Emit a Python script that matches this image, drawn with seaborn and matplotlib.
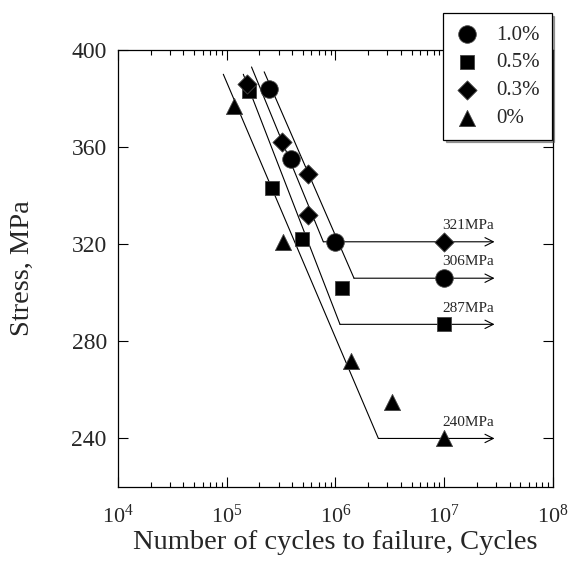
import numpy as np
import pandas as pd
import matplotlib
matplotlib.use('Agg')
import matplotlib.pyplot as plt
import seaborn as sns

# measured points per alloy content
cycles_10 = [2.45e5, 3.9e5, 1.0e6, 1.0e7]
stress_10 = [384, 355, 321, 306]
cycles_05 = [1.6e5, 2.6e5, 4.9e5, 1.16e6, 1.0e7]
stress_05 = [383, 343, 322, 302, 287]
cycles_03 = [1.55e5, 3.25e5, 5.6e5, 5.55e5, 1.0e7]
stress_03 = [386, 362, 349, 332, 321]
cycles_00 = [1.16e5, 3.3e5, 1.39e6, 3.3e6, 1.0e7]
stress_00 = [377, 321, 272, 255, 240]

series = ['1.0%', '0.5%', '0.3%', '0%']
markers = {'1.0%': 'o', '0.5%': 's', '0.3%': 'D', '0%': '^'}
sizes = {'1.0%': 160, '0.5%': 115, '0.3%': 95, '0%': 135}

# fitted S-N lines: start of sloped part, knee, fatigue limit
fit_start_cycles = [2.21e5, 1.42e5, 1.69e5, 9.3e4]
fit_start_stress = [391, 390, 393, 390]
fit_knee_cycles = [1.48e6, 1.10e6, 7.73e5, 2.48e6]
fatigue_limit = [306, 287, 321, 240]
arrow_end = 2.9e7
limit_labels = ['306MPa', '287MPa', '321MPa', '240MPa']

df = pd.concat([
    pd.DataFrame({'Cycles': c, 'Stress': s, 'Content': name})
    for c, s, name in zip([cycles_10, cycles_05, cycles_03, cycles_00],
                          [stress_10, stress_05, stress_03, stress_00], series)
])

sns.set_style('ticks')
plt.rcParams['font.family'] = ['Liberation Serif', 'DejaVu Serif']
plt.rcParams['mathtext.fontset'] = 'custom'
plt.rcParams['mathtext.rm'] = 'Liberation Serif'
plt.rcParams['mathtext.it'] = 'Liberation Serif:italic'

fig = plt.figure(figsize=(5.68, 5.61), dpi=100)
ax = fig.add_axes([0.2077, 0.1319, 0.7659, 0.7790])

for i in range(len(series)):
    ax.plot([fit_start_cycles[i], fit_knee_cycles[i]],
            [fit_start_stress[i], fatigue_limit[i]],
            color='black', lw=0.8, zorder=1)
    ax.annotate('', xy=(arrow_end, fatigue_limit[i]),
                xytext=(fit_knee_cycles[i], fatigue_limit[i]),
                arrowprops=dict(arrowstyle='->', lw=0.8, color='black',
                                mutation_scale=15, shrinkA=0, shrinkB=0),
                zorder=1)
    ax.text(1.65e7, fatigue_limit[i] + 4, limit_labels[i], fontsize=11,
            ha='center', va='bottom')

for name in series:
    sub = df[df['Content'] == name]
    sns.scatterplot(data=sub, x='Cycles', y='Stress', marker=markers[name],
                    s=sizes[name], color='black', edgecolor='#444444',
                    linewidth=0.6, label=name, ax=ax, zorder=3)

ax.set_xscale('log')
ax.set_xlim(1e4, 1e8)
ax.set_ylim(220, 400)
ax.set_yticks([240, 280, 320, 360, 400])
ax.xaxis.set_minor_locator(matplotlib.ticker.LogLocator(base=10, subs=np.arange(2, 10)))
ax.tick_params(which='both', direction='in', top=True, right=True,
               width=0.8, color='black')
ax.tick_params(which='major', length=7)
ax.tick_params(which='minor', length=3.5)
ax.tick_params(axis='x', pad=13, labelsize=16)
ax.tick_params(axis='y', pad=8, labelsize=17)
for sp in ax.spines.values():
    sp.set_linewidth(0.9)
    sp.set_color('black')

ax.set_xlabel('Number of cycles to failure, Cycles', fontsize=20.5, labelpad=1)
ax.set_ylabel('Stress, MPa', fontsize=20.5, labelpad=26)

handles, labels = ax.get_legend_handles_labels()
leg = ax.legend(handles, labels, loc='upper right', bbox_to_anchor=(0.971, 0.976),
                bbox_transform=fig.transFigure, borderaxespad=0, fontsize=15,
                frameon=True, fancybox=False, shadow=True, edgecolor='black',
                framealpha=1, handletextpad=0.8, borderpad=0.55, labelspacing=0.4,
                handlelength=1.2)
leg.get_frame().set_linewidth(0.9)
leg.set_zorder(10)

fig.savefig('out.png', dpi=100)
